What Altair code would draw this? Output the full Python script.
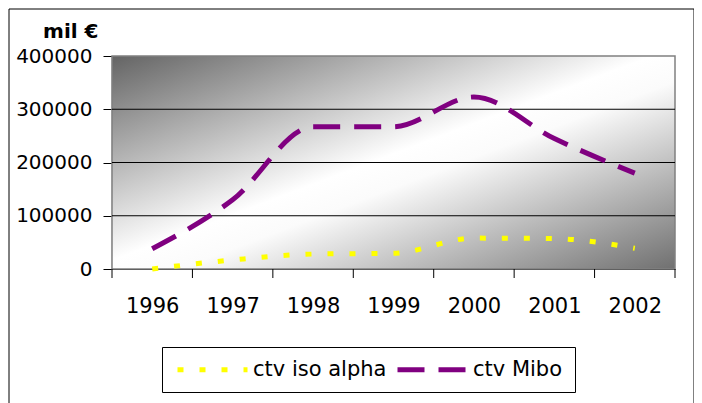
import altair as alt
import pandas as pd

years = [1996, 1997, 1998, 1999, 2000, 2001, 2002]
iso_alpha = [0, 17000, 28000, 29500, 58000, 57000, 39000]
mibo = [38000, 130000, 267000, 267000, 323000, 245000, 180000]
series_names = ["ctv iso alpha", "ctv Mibo"]
series_colors = ["#ffff00", "#800080"]
series_dash = [[6, 16], [27, 14]]
y_ticks = [0, 100000, 200000, 300000, 400000]
grid_values = [100000, 200000, 300000]
x_bounds = [1995.5, 1996.5, 1997.5, 1998.5, 1999.5, 2000.5, 2001.5, 2002.5]

FONT = "DejaVu Sans"
W, H = 563, 213

df = pd.DataFrame({
    "year": years * 2,
    "value": iso_alpha + mibo,
    "series": [series_names[0]] * len(years) + [series_names[1]] * len(years),
})

xscale = alt.Scale(domain=[x_bounds[0], x_bounds[-1]], nice=False, zero=False)
yscale = alt.Scale(domain=[0, 400000], nice=False)

x_axis = alt.Axis(
    values=years, format="d", title=None, ticks=False, tickSize=0,
    grid=False, domainColor="#000000", domainWidth=1.2,
    labelFont=FONT, labelFontSize=21, labelColor="#000000",
    labelPadding=26, labelFlush=False,
)
y_axis = alt.Axis(
    values=y_ticks, format="d", title="mil €", titleAngle=0,
    titleAlign="right", titleBaseline="alphabetic",
    titleX=-14, titleY=-19, titleFont=FONT, titleFontSize=20,
    titleFontWeight="bold", titleColor="#000000",
    grid=False, domainColor="#000000", domainWidth=1.2,
    tickColor="#000000", tickSize=9, labelPadding=11,
    labelFont=FONT, labelFontSize=20, labelColor="#000000",
    labelFlush=False,
)

one = pd.DataFrame({"a": [0]})

background = alt.Chart(one).mark_rect(
    fill=alt.Gradient(
        gradient="linear",
        stops=[
            alt.GradientStop(offset=0, color="#646464"),
            alt.GradientStop(offset=0.48, color="#ffffff"),
            alt.GradientStop(offset=0.56, color="#fbfbfb"),
            alt.GradientStop(offset=1, color="#707070"),
        ],
        x1=0, y1=0, x2=1, y2=1,
    ),
    stroke="#808080",
    strokeWidth=1.5,
).encode(
    x=alt.value(0), x2=alt.value(W), y=alt.value(0), y2=alt.value(H)
)

grid = alt.Chart(pd.DataFrame({"g": grid_values})).mark_rule(
    color="#000000", strokeWidth=1
).encode(
    y=alt.Y("g:Q", scale=yscale, axis=y_axis),
    x=alt.value(0), x2=alt.value(W),
)

xticks = alt.Chart(pd.DataFrame({"b": x_bounds})).mark_rule(
    color="#000000", strokeWidth=1
).encode(
    x=alt.X("b:Q", scale=xscale, axis=x_axis),
    y=alt.value(H), y2=alt.value(H + 9),
)

legend = alt.Legend(
    title=None,
    orient="none",
    legendX=50,
    legendY=291,
    direction="horizontal",
    strokeColor="#000000",
    fillColor="#ffffff",
    padding=12,
    labelFont=FONT,
    labelFontSize=21,
    labelColor="#000000",
    labelOffset=58,
    columnPadding=0,
    symbolType="M-1,0H9",
    symbolSize=196,
    symbolStrokeWidth=5,
)

lines = alt.Chart(df).mark_line(
    strokeWidth=5, interpolate="monotone"
).encode(
    x=alt.X("year:Q", scale=xscale, axis=x_axis),
    y=alt.Y("value:Q", scale=yscale, axis=y_axis),
    color=alt.Color(
        "series:N",
        scale=alt.Scale(domain=series_names, range=series_colors),
        legend=legend,
        sort=series_names,
    ),
    strokeDash=alt.StrokeDash(
        "series:N",
        scale=alt.Scale(domain=series_names, range=series_dash),
        legend=legend,
        sort=series_names,
    ),
)

frame = alt.Chart(one).mark_rect(
    fill="#ffffff", fillOpacity=0, stroke="#000000", strokeWidth=1
).encode(
    x=alt.value(-103), x2=alt.value(582), y=alt.value(-47), y2=alt.value(400)
)

chart = alt.layer(background, grid, xticks, lines, frame).properties(
    width=W,
    height=H,
    padding={"left": 104, "top": 48, "right": 19, "bottom": 134},
    autosize=alt.AutoSizeParams(type="none"),
    background="#ffffff",
).configure_view(stroke=None)

chart.save("out.html", embed_options={"renderer": "svg", "actions": False})
